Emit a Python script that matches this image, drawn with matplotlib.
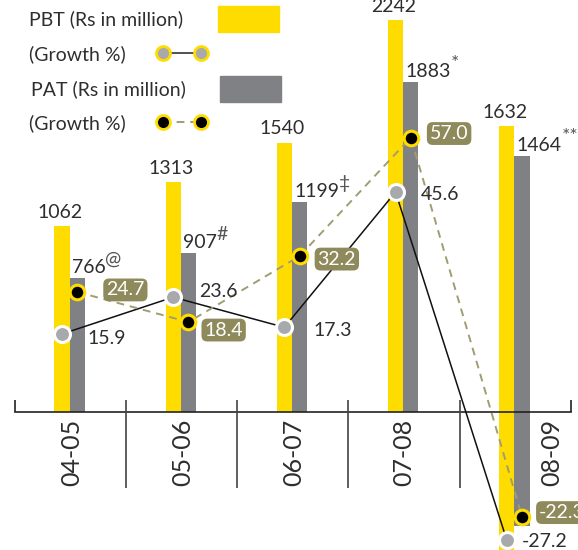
import matplotlib.pyplot as plt
import numpy as np

# data
years = ["04-05", "05-06", "06-07", "07-08", "08-09"]
pbt = [1062, 1313, 1540, 2242, 1632]
pat = [766, 907, 1199, 1883, 1464]
pat_marks = ["@", "#", "\u2021", "*", "**"]
pbt_growth = [15.9, 23.6, 17.3, 45.6, -27.2]
pat_growth = [24.7, 18.4, 32.2, 57.0, -22.3]

YELLOW = "#ffdc00"
GREY = "#808184"
OLIVE = "#8f8a5c"
DASH = "#a19d72"
TXT = "#2e2e2e"
FONT = ["Lato", "DejaVu Sans"]

W, H = 578, 550
px_cat = 111.2          # pixels per category
x0_px = 70.3            # pixel x of first category centre
base_px = 412           # pixel y of the axis line
bar_scale = 0.175       # pixels per Rs million
g_scale = 4.78          # pixels per growth %

fig = plt.figure(figsize=(W / 100, H / 100), dpi=100)
ax = fig.add_axes([0, 0, 1, 1])
ax.set_xlim(-x0_px / px_cat, (W - x0_px) / px_cat)
ax.set_ylim(-(H - base_px) / bar_scale, base_px / bar_scale)
ax.axis("off")
gx = ax.twinx()
gx.set_ylim(-(H - base_px + 2) / g_scale, (base_px - 2) / g_scale)
gx.axis("off")

x = np.arange(len(years))
bw = 0.136
xy = x - 0.075
xg = x + 0.062


def py(px):
    # pixel row -> bar-axis value
    return (base_px - px) / bar_scale


# bars (the negative year runs down below the axis, as in the original)
bottoms_y = [0 if g >= 0 else ax.get_ylim()[0] for g in pbt_growth]
bottoms_g = [0 if g >= 0 else g * g_scale / bar_scale - 40 for g in pat_growth]
ax.bar(xy, np.array(pbt) - bottoms_y, bw, bottom=bottoms_y, color=YELLOW, zorder=2)
ax.bar(xg, np.array(pat) - bottoms_g, bw, bottom=bottoms_g, color=GREY, zorder=2)

# axis line and separators
ax.plot([-0.5, 4.5], [0, 0], color="#222222", lw=1.2, zorder=3)
ax.vlines([-0.5, 4.5], 0, py(400), color="#222222", lw=1.2, zorder=3)
ax.vlines(x[:-1] + 0.5, py(488), py(400), color="#444444", lw=1.2, zorder=3)
lab_dx = [0.01, 0.01, 0.01, 0.0, 0.33]
for xi, lab, d in zip(x, years, lab_dx):
    ax.text(xi + d, py(419), lab, rotation=90, ha="center", va="top",
            fontsize=18, color=TXT, family=FONT)

# value labels
for xi, v in zip(xy, pbt):
    ax.annotate(str(v), (xi, v), xytext=(-2, 5), textcoords="offset pixels",
                ha="center", va="bottom", fontsize=14, color=TXT, family=FONT)
for xi, v, m in zip(xg, pat, pat_marks):
    t = ax.annotate(str(v), (xi - bw / 2, v), xytext=(2, 2),
                    textcoords="offset pixels", ha="left", va="bottom",
                    fontsize=14, color=TXT, family=FONT)
    ax.annotate(m, (1, 1), xycoords=t, xytext=(0, 0), textcoords="offset pixels",
                ha="left", va="center", fontsize=14, color="#555555",
                family=FONT)

# growth lines
gx.plot(xy, pbt_growth, color="#111111", lw=1.1, zorder=4)
gx.plot(xg, pat_growth, color=DASH, lw=1.4, ls=(0, (4, 3)), zorder=4)
gx.plot(xy, pbt_growth, "o", ms=11.5, mfc="#a7a9ac", mec="white", mew=2.2, zorder=5)
gx.plot(xg, pat_growth, "o", ms=10.5, mfc="black", mec=YELLOW, mew=2.2, zorder=5)

pbt_off = [(26, -5), (26, 6), (29, -3), (25, -2), (15, -1)]
for xi, g, (dx, dy) in zip(xy, pbt_growth, pbt_off):
    gx.annotate(f"{g:.1f}", (xi, g), xytext=(dx, dy), textcoords="offset pixels",
                ha="left", va="center", fontsize=14, color=TXT,
                family=FONT, zorder=6)

pat_off = [(29, 2), (16, -8), (18, -3), (19, 4), (17, 4)]
for xi, g, (dx, dy) in zip(xg, pat_growth, pat_off):
    gx.annotate(f"{g:.1f}", (xi, g), xytext=(dx, dy), textcoords="offset pixels",
                ha="left", va="center", fontsize=14, color="white",
                family=FONT, zorder=6,
                bbox=dict(boxstyle="round,pad=0.15,rounding_size=0.3",
                          fc=OLIVE, ec="none"))

# legend, drawn by hand in pixel space
lg = fig.add_axes([0, 0, 1, 1])
lg.set_xlim(0, W)
lg.set_ylim(H, 0)
lg.axis("off")
lg_kw = dict(fontsize=14, color=TXT, family=FONT, ha="left", va="center")
lg.text(29, 19, "PBT (Rs in million)", **lg_kw)
lg.add_patch(plt.Rectangle((218, 6), 61, 26, color=YELLOW))
lg.text(29, 54, "(Growth %)", **lg_kw)
lg.plot([163, 201], [53, 53], color="#222222", lw=1.1)
lg.plot([163, 201], [53, 53], "o", ms=10, mfc="#a7a9ac", mec=YELLOW, mew=2)
lg.text(31, 89, "PAT (Rs in million)", **lg_kw)
lg.add_patch(plt.Rectangle((220, 76), 61, 26, color=GREY))
lg.text(29, 123, "(Growth %)", **lg_kw)
lg.plot([163, 201], [122, 122], color=DASH, lw=1.4, ls=(0, (4, 3)))
lg.plot([163, 201], [122, 122], "o", ms=10, mfc="black", mec=YELLOW, mew=2)

fig.savefig("out.png", dpi=100)
